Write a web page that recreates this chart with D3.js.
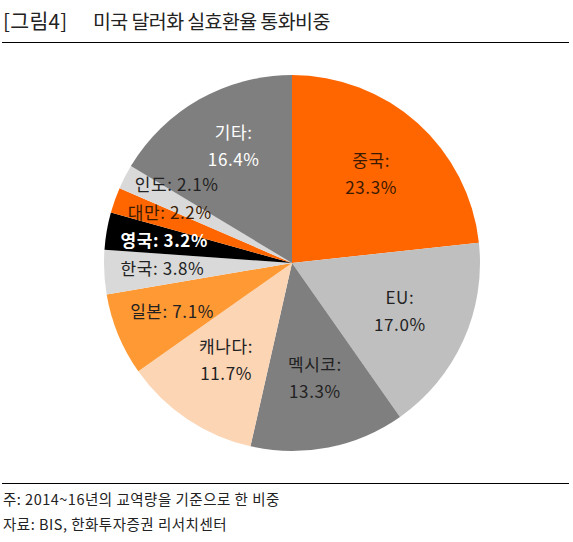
<!DOCTYPE html>
<html>
<head>
<meta charset="utf-8">
<script src="https://cdn.jsdelivr.net/npm/d3@7"></script>
<style>
  body { margin: 0; background: #fff; }
  svg text { font-family: "Noto Sans CJK KR", "Noto Sans", sans-serif; }
</style>
</head>
<body>
<svg id="chart" width="573" height="542"></svg>
<script>
// Currency weights in the USD effective exchange rate (%)
const names = ['중국', 'EU', '멕시코', '캐나다', '일본', '한국', '영국', '대만', '인도', '기타'];
const shares = [23.3, 17.0, 13.3, 11.7, 7.1, 3.8, 3.2, 2.2, 2.1, 16.4];
const colors = ['#ff6600', '#bfbfbf', '#7f7f7f', '#fcd5b5', '#ff9933', '#d9d9d9', '#000000', '#ff6600', '#d9d9d9', '#7f7f7f'];
const textColors = ['#3a1a00', '#222', '#222', '#222', '#222', '#222', '#fff', '#3a1a00', '#222', '#fff'];

const svg = d3.select('#chart');

// Title and rules
svg.append('text')
  .attr('x', 3).attr('y', 29)
  .attr('font-size', 20.5).attr('letter-spacing', 0.3)
  .attr('fill', '#222')
  .text('[그림4]');
svg.append('text')
  .attr('x', 93).attr('y', 29)
  .attr('font-size', 19.5).attr('letter-spacing', -0.6)
  .attr('fill', '#222')
  .text('미국 달러화 실효환율 통화비중');
svg.append('line').attr('x1', 2).attr('x2', 569).attr('y1', 42.5).attr('y2', 42.5)
  .attr('stroke', '#000').attr('stroke-width', 1);
svg.append('line').attr('x1', 2).attr('x2', 569).attr('y1', 483.5).attr('y2', 483.5)
  .attr('stroke', '#000').attr('stroke-width', 1);

// Pie
const cx = 292, cy = 263, r = 188;
const data = names.map((n, i) => ({ name: n, value: shares[i], i }));
const pie = d3.pie().value(d => d.value).sort(null);
const arcs = pie(data);
const arc = d3.arc().innerRadius(0).outerRadius(r);
const g = svg.append('g').attr('transform', `translate(${cx},${cy})`);

g.selectAll('path.slice')
  .data(arcs)
  .join('path')
  .attr('class', 'slice')
  .attr('d', arc)
  .attr('fill', d => colors[d.data.i]);

// Labels: big slices get two lines, small slices one line further out
const bigArc = d3.arc().innerRadius(r * 0.63).outerRadius(r * 0.63);
const smallArc = d3.arc().innerRadius(r * 0.69).outerRadius(r * 0.69);
const fmt = v => v.toFixed(1) + '%';

const labels = arcs.map(d => {
  const big = d.data.value > 10;
  const [x, y] = (big ? bigArc : smallArc).centroid(d);
  return { d, big, x, y };
});

// small labels on the left side are stacked; push upward so they do not collide
const small = labels.filter(l => !l.big).sort((a, b) => b.y - a.y);
for (let k = 1; k < small.length; k++) {
  small[k].y = Math.min(small[k].y, small[k - 1].y - 28);
}
// a two-line label sitting above the stack is lifted clear of it
const topSmall = small[small.length - 1];
labels.filter(l => l.big && l.x < 0 && l.y < 0)
  .forEach(l => { l.y = Math.min(l.y, topSmall.y - 38); });

labels.forEach(({ d, big, x, y }) => {
  const t = g.append('text')
    .attr('text-anchor', 'middle')
    .attr('font-size', 17)
    .attr('letter-spacing', 0.6)
    .attr('font-weight', d.data.name === '영국' ? 'bold' : 'normal')
    .attr('fill', textColors[d.data.i]);
  if (big) {
    t.append('tspan').attr('x', x).attr('y', y - 8).text(d.data.name + ':');
    t.append('tspan').attr('x', x).attr('y', y + 19).text(fmt(d.data.value));
  } else {
    t.attr('x', x).attr('y', y + 6).text(d.data.name + ': ' + fmt(d.data.value));
  }
});

// Notes
svg.append('text').attr('x', 3).attr('y', 505).attr('font-size', 14.5)
  .attr('letter-spacing', 0.5).attr('fill', '#222')
  .text('주: 2014~16년의 교역량을 기준으로 한 비중');
svg.append('text').attr('x', 3).attr('y', 530).attr('font-size', 14.5)
  .attr('letter-spacing', 0.5).attr('fill', '#222')
  .text('자료: BIS, 한화투자증권 리서치센터');
</script>
</body>
</html>
